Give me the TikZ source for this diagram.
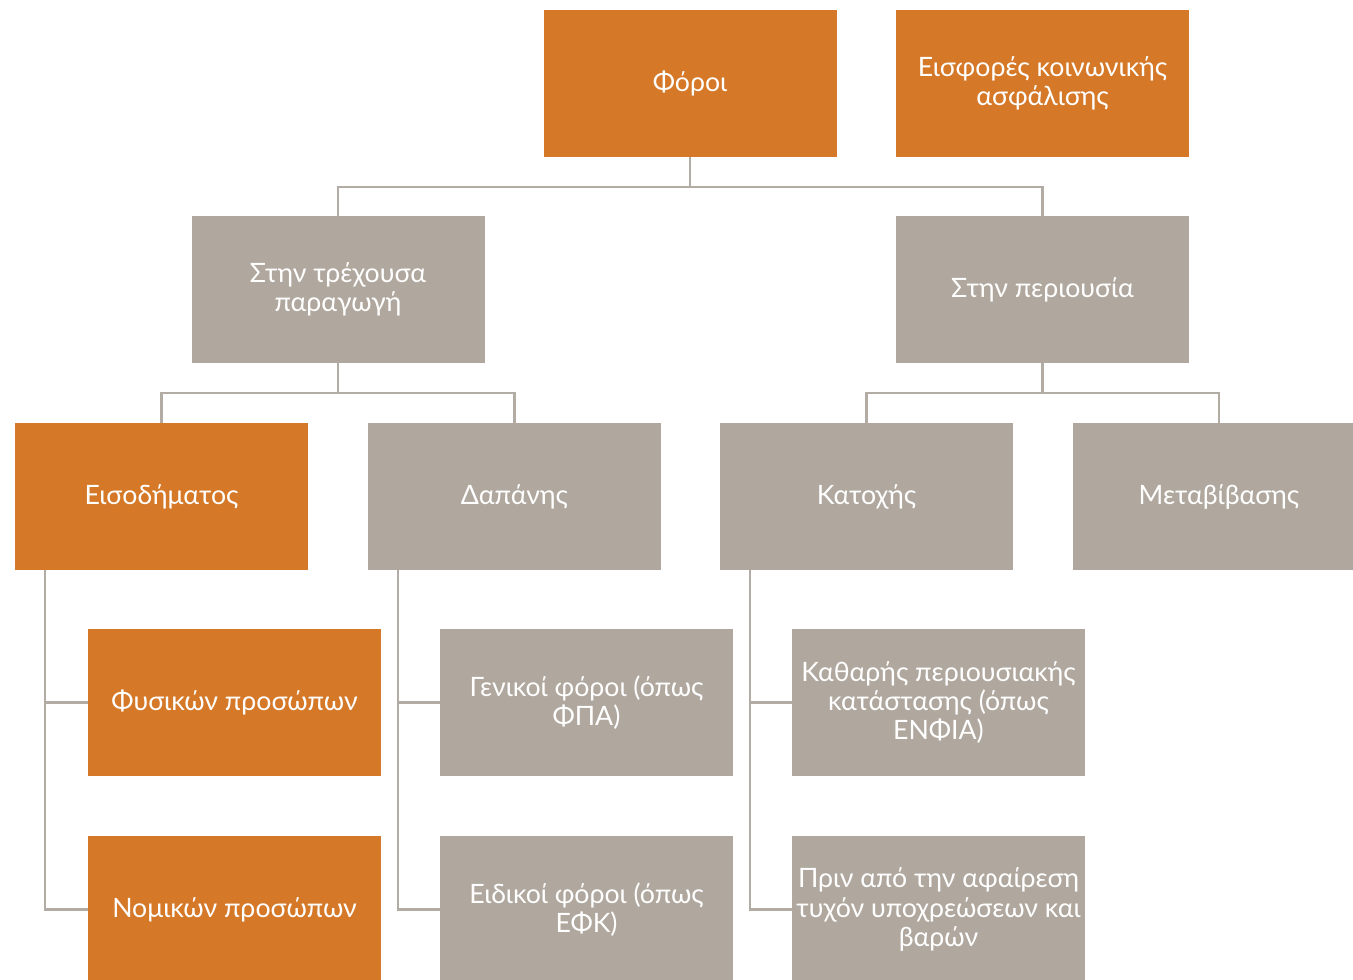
\documentclass[tikz,border=0pt]{standalone}
\usepackage{fontspec}
\setmainfont{Lato}
\definecolor{orng}{HTML}{D57828}
\definecolor{grybox}{HTML}{B0A89E}
\definecolor{gryline}{HTML}{B3ACA4}
\begin{document}
\begin{tikzpicture}[x=0.75pt,y=-0.75pt,
  box/.style={rectangle, inner sep=0pt, minimum width=219.75pt, minimum height=110.25pt,
     text=white, align=center, font=\fontsize{20}{22}\selectfont},
  obox/.style={box, fill=orng},
  gbox/.style={box, fill=grybox},
  conn/.style={draw=gryline, line width=1.6pt}]
\clip (0,0) rectangle (1353,980);
\fill[white] (0,0) rectangle (1353,980);
\node[obox] (phoroi) at (690,83.5) {Φόροι};
\node[obox] (eisf) at (1042.5,83.5) {Εισφορές κοινωνικής\\ασφάλισης};
\node[gbox] (trex) at (338,289.5) {Στην τρέχουσα\\παραγωγή};
\node[gbox] (periou) at (1042.5,289.5) {Στην περιουσία};
\node[obox] (eisod) at (161.5,496.5) {Εισοδήματος};
\node[gbox] (dap) at (514.5,496.5) {Δαπάνης};
\node[gbox] (kat) at (866.5,496.5) {Κατοχής};
\node[gbox] (metab) at (1219,496.5) {Μεταβίβασης};
\node[obox] (fys) at (234.5,702.5) {Φυσικών προσώπων};
\node[gbox] (gen) at (586.5,702.5) {Γενικοί φόροι (όπως\\ΦΠΑ)};
\node[gbox] (kath) at (938.5,702.5) {Καθαρής περιουσιακής\\κατάστασης (όπως\\ΕΝΦΙΑ)};
\node[obox] (nom) at (234.5,909.5) {Νομικών προσώπων};
\node[gbox] (eid) at (586.5,909.5) {Ειδικοί φόροι (όπως\\ΕΦΚ)};
\node[gbox] (prin) at (938.5,909.5) {Πριν από την αφαίρεση\\τυχόν υποχρεώσεων και\\βαρών};
\draw[conn] (phoroi.south) -- ++(0,29.5) -| (trex.north);
\draw[conn] (phoroi.south) -- ++(0,29.5) -| (periou.north);
\draw[conn] (trex.south) -- ++(0,30) -| (eisod.north);
\draw[conn] (trex.south) -- ++(0,30) -| (dap.north);
\draw[conn] (periou.south) -- ++(0,30) -| (kat.north);
\draw[conn] (periou.south) -- ++(0,30) -| (metab.north);
\draw[conn] ([xshift=22.5pt]eisod.south west) |- (fys.west);
\draw[conn] ([xshift=22.5pt]eisod.south west) |- (nom.west);
\draw[conn] ([xshift=22.5pt]dap.south west) |- (gen.west);
\draw[conn] ([xshift=22.5pt]dap.south west) |- (eid.west);
\draw[conn] ([xshift=22.5pt]kat.south west) |- (kath.west);
\draw[conn] ([xshift=22.5pt]kat.south west) |- (prin.west);
\end{tikzpicture}
\end{document}
